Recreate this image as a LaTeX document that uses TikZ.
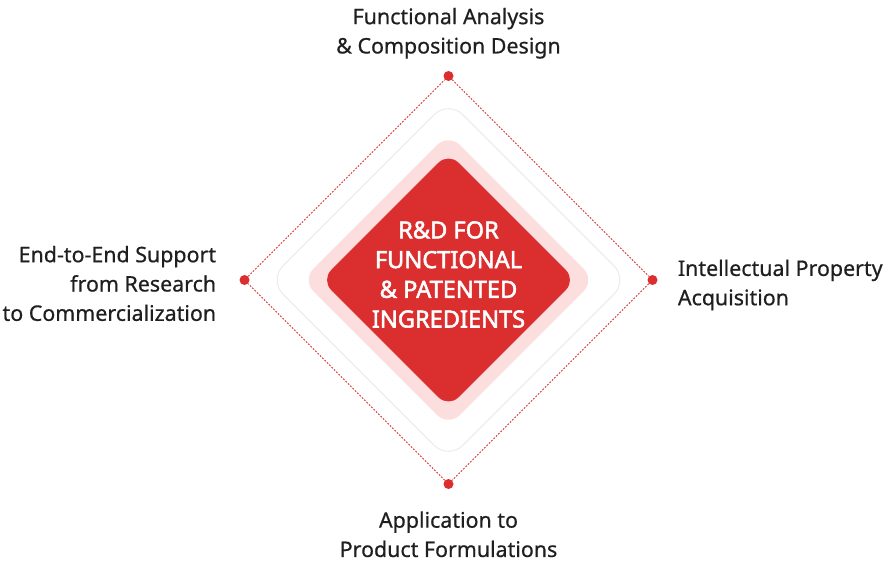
\documentclass[tikz,border=0pt]{standalone}
\usepackage{fontspec}
\setmainfont{Noto Sans}[AutoFakeBold=2.2]
\newfontfamily\tagfont{Noto Sans}[FakeBold=0.6]
\usetikzlibrary{positioning}
\definecolor{brandred}{HTML}{DB2E2F}
\definecolor{softpink}{HTML}{FDDEDF}
\definecolor{ringgray}{HTML}{EBEBEB}
\tikzset{
corner/.style={circle, fill=brandred, inner sep=0pt, minimum size=10pt},
link/.style={brandred, dash pattern=on 1.8pt off 1.5pt, line width=0.9pt},
tag/.style={font=\tagfont\fontsize{21.4}{29.3}\selectfont, text=black!88, inner sep=0pt},
tile/.style={rectangle, rotate=45, inner sep=0pt},
}

\begin{document}
\begin{tikzpicture}[x=1pt,y=-1pt]
\useasboundingbox (0,0) rectangle (890,565);
    \node[tile, draw=ringgray, line width=1pt, rounded corners=20pt, minimum size=254pt] (ring) at (448.5,280) {};
    \node[tile, fill=softpink, rounded corners=16pt, minimum size=207pt] (halo) at (448.5,280) {};
    \node[tile, fill=brandred, rounded corners=14pt, minimum size=180pt] (core) at (448.5,280) {};
    \node[align=center, text=white, font=\bfseries\fontsize{23.6}{29.7}\selectfont, yshift=5.5pt] (title) at (core.center) {R\&D FOR\\FUNCTIONAL\\\& PATENTED\\INGREDIENTS};

    \node[corner] (top) at (448.5,76) {};
    \node[corner] (right) at (652.5,280) {};
    \node[corner] (bottom) at (448.5,484) {};
    \node[corner] (left) at (244.5,280) {};

    \node[tag, align=center, above=12pt of top] (design) {Functional Analysis\\\& Composition Design};
    \node[tag, align=left, right=20pt of right, yshift=-5pt] (patent) {Intellectual Property\\Acquisition};
    \node[tag, align=center, below=22pt of bottom] (formula) {Application to\\Product Formulations};
    \node[tag, align=right, left=23pt of left, yshift=-3.5pt] (support) {End-to-End Support\\from Research\\to Commercialization};

    \draw[link] (top) -- (right) -- (bottom) -- (left) -- (top);
\end{tikzpicture}
\end{document}
